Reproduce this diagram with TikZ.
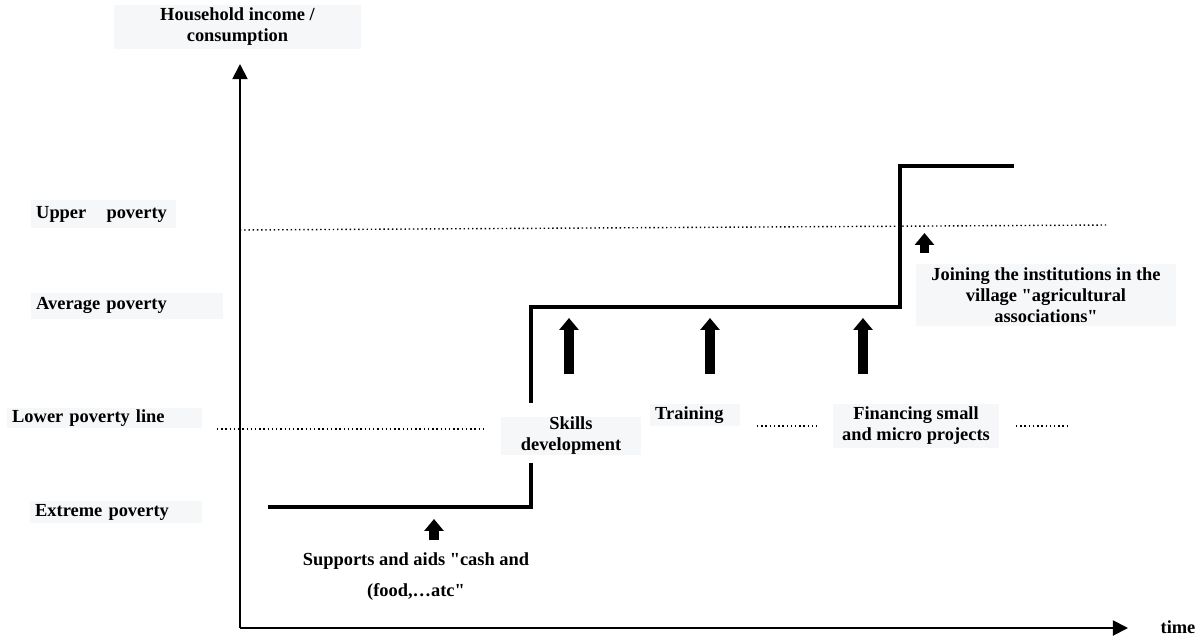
\documentclass[tikz,border=0pt]{standalone}
\usepackage{fontspec}
\setmainfont{Liberation Serif}
\usetikzlibrary{arrows.meta}
\usetikzlibrary{positioning}
\definecolor{boxgray}{RGB}{246,247,249}
\def\myfont{\fontsize{13.1}{15}\selectfont\bfseries}
\def\q{\textquotedbl}
\tikzset{
semithick, % All lines semithick
>={Triangle[length=10.7pt,width=10.7pt]}, % axis tips
my label/.style={fill=boxgray,font=\myfont,inner sep=0pt},
my level/.style={my label,anchor=west,align=left,inner xsep=3.5pt},
my middle/.style={my label,align=center},
my axis/.style={line width=1.3pt,->},
my step/.style={line width=2.3pt},
my line/.style={dotted,line width=1pt},
my push/.style={line width=6.7pt,-{Triangle[length=8.5pt,width=13.5pt]}}
}
\begin{document}
\begin{tikzpicture}[x=0.025cm,y=-0.025cm]
\useasboundingbox (0,0) rectangle (1204,640);

% axes
\coordinate (o) at (240,628);
\coordinate (ytop) at (240,64);
\coordinate (xend) at (1128,628);
\draw[my axis] (o) -- (ytop);
\draw[my axis] (o) -- (xend);
\node[my middle,minimum width=175.7pt,minimum height=31.3pt] (income) at (237.5,27) {Household income /\\consumption};
\node[font=\myfont] (time) at (1178,627) {time};

% levels
\node[my level,text width=96pt,minimum height=19.9pt] (upper) at (31,214) {\mbox{Upper\hspace{10pt} poverty}};
\node[my level,text width=129.6pt,minimum height=18.5pt] (average) at (31,305.5) {Average poverty};
\node[my level,text width=131.7pt,minimum height=14.9pt] (lower) at (7,418) {Lower poverty line};
\node[my level,text width=115.3pt,minimum height=15.6pt] (extreme) at (30,512) {Extreme poverty};

\coordinate (u1) at (240,230);
\coordinate (u2) at (1107,225);
\draw[my line] (u1) -- (u2);
\coordinate (l1) at (217,429);
\coordinate (l2) at (484,429);
\coordinate (l3) at (757,426);
\coordinate (l4) at (819,426);
\coordinate (l5) at (1016,426);
\coordinate (l6) at (1067,426);
\draw[my line] (l1) -- (l2);
\draw[my line] (l3) -- (l4);
\draw[my line] (l5) -- (l6);

% household path
\coordinate (s0) at (268,507);
\coordinate (s1) at (531,507);
\coordinate (s2) at (531,463);
\coordinate (s3) at (531,403);
\coordinate (s4) at (531,307);
\coordinate (s5) at (900,307);
\coordinate (s6) at (900,166);
\coordinate (s7) at (1014,166);
\draw[my step] (s0) -- (s1) -- (s2);
\draw[my step] (s3) -- (s4) -- (s5) -- (s6) -- (s7);

% interventions
\node[my middle,minimum width=99.6pt,minimum height=27.7pt] (skills) at (571,436) {Skills\\development};
\node[my level,text width=57pt,minimum height=15.6pt] (training) at (650,415) {Training};
\node[my middle,minimum width=118pt,minimum height=31.3pt] (financing) at (916,426) {Financing small\\and micro projects};
\node[my middle,minimum width=185pt,minimum height=44.1pt] (joining) at (1046,295) {Joining the institutions in the\\village \q agricultural\\associations\q};
\node[font=\myfont,align=center] (aids) at (416,577) {Supports and aids \q cash and\\[7pt](food,…atc\q};

\coordinate (a0) at (434,540);
\coordinate (a1) at (434,519);
\coordinate (b0) at (569,374);
\coordinate (b1) at (569,318);
\coordinate (c0) at (710,374);
\coordinate (c1) at (710,318);
\coordinate (d0) at (863,374);
\coordinate (d1) at (863,318);
\coordinate (e0) at (924.5,253);
\coordinate (e1) at (924.5,233);
\draw[my push] (a0) -- (a1);
\draw[my push] (b0) -- (b1);
\draw[my push] (c0) -- (c1);
\draw[my push] (d0) -- (d1);
\draw[my push] (e0) -- (e1);
\end{tikzpicture}
\end{document}
